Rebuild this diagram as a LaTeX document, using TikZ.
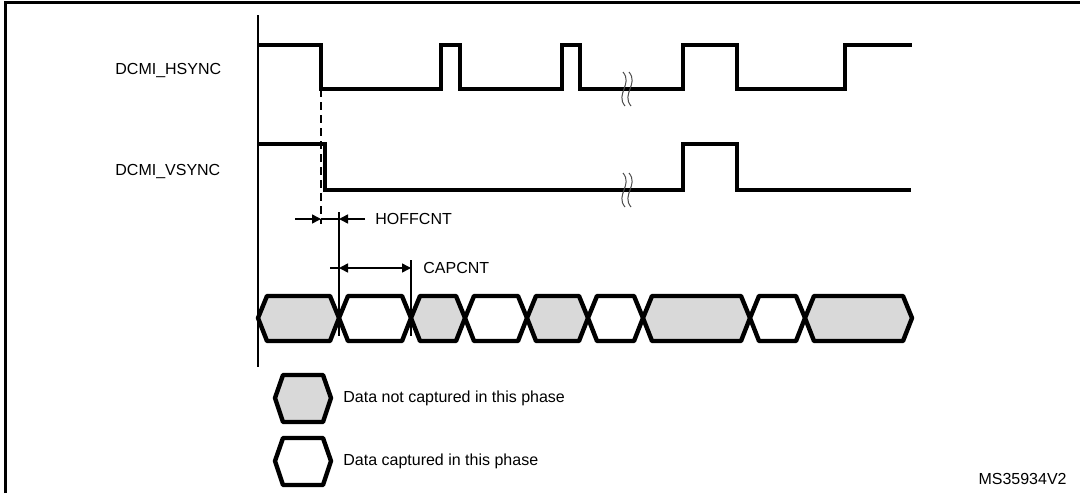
\documentclass[tikz,border=0pt]{standalone}
\usepackage{fontspec}
\setmainfont{Liberation Sans}
\usetikzlibrary{arrows.meta}
\definecolor{cellgray}{RGB}{217,217,217}
\begin{document}
\begin{tikzpicture}[x=0.5pt,y=-0.5pt, every node/.style={font=\fontsize{8}{9.6}\selectfont,inner sep=0pt},
  sig/.style={line width=2pt}, thinline/.style={line width=0.75pt},
  tip/.style={-{Triangle[length=4.5pt,width=4.5pt]}},
  cell/.style={line width=2.2pt,line join=round},
  brk/.style={line width=0.5pt,black!70}]
\useasboundingbox (0,0) rectangle (1080,493);
\draw[line width=1.5pt] (5,493) -- (5,2) -- (1080,2);
\node[anchor=west] (hsync) at (115,71) {DCMI\_HSYNC};
\node[anchor=west] (vsync) at (115,171) {DCMI\_VSYNC};
\draw[thinline] (258,15) -- (258,367);
\draw[sig] (258,45) -- (321,45) -- (321,89) -- (441,89) -- (441,45) -- (460,45) -- (460,89) -- (562,89) -- (562,45) -- (580,45) -- (580,89) -- (683,89) -- (683,45) -- (737,45) -- (737,89) -- (845,89) -- (845,45) -- (912,45);
\draw[sig] (258,144) -- (325,144) -- (325,190) -- (683,190) -- (683,144) -- (737,144) -- (737,190) -- (911,190);
\draw[brk] (623,72) .. controls (633,84) and (615,94) .. (625,106);
\draw[brk] (629,72) .. controls (639,84) and (621,94) .. (631,106);
\draw[brk] (623,173) .. controls (633,185) and (615,195) .. (625,207);
\draw[brk] (629,173) .. controls (639,185) and (621,195) .. (631,207);
\draw[line width=1pt,dash pattern=on 4pt off 2.5pt] (321,89) -- (321,224);
\coordinate (h0) at (295,219);
\coordinate (h1) at (321,219);
\coordinate (h2) at (339,219);
\coordinate (h3) at (365,219);
\draw[thinline,tip] (h0) -- (h1);
\draw[thinline] (h1) -- (h2);
\draw[thinline,tip] (h3) -- (h2);
\node[anchor=west] (hoff) at (375,219) {HOFFCNT};
\draw[thinline] (339,212) -- (339,336);
\draw[thinline] (411,260) -- (411,336);
\coordinate (c0) at (330,268);
\coordinate (c1) at (339,268);
\coordinate (c2) at (411,268);
\draw[thinline] (c0) -- (c1);
\draw[thinline,tip] (376,268) -- (c1);
\draw[thinline,tip] (376,268) -- (c2);
\node[anchor=west] (capcnt) at (423,268) {CAPCNT};
\filldraw[cell,fill=cellgray] (258,318) -- (267,296) -- (330,296) -- (339,318) -- (330,341) -- (267,341) -- cycle;
\filldraw[cell,fill=white] (339,318) -- (348,296) -- (402,296) -- (411,318) -- (402,341) -- (348,341) -- cycle;
\filldraw[cell,fill=cellgray] (411,318) -- (420,296) -- (456,296) -- (465,318) -- (456,341) -- (420,341) -- cycle;
\filldraw[cell,fill=white] (465,318) -- (474,296) -- (518,296) -- (527,318) -- (518,341) -- (474,341) -- cycle;
\filldraw[cell,fill=cellgray] (527,318) -- (536,296) -- (579,296) -- (588,318) -- (579,341) -- (536,341) -- cycle;
\filldraw[cell,fill=white] (588,318) -- (597,296) -- (634,296) -- (643,318) -- (634,341) -- (597,341) -- cycle;
\filldraw[cell,fill=cellgray] (643,318) -- (652,296) -- (741,296) -- (750,318) -- (741,341) -- (652,341) -- cycle;
\filldraw[cell,fill=white] (750,318) -- (759,296) -- (796,296) -- (805,318) -- (796,341) -- (759,341) -- cycle;
\filldraw[cell,fill=cellgray] (805,318) -- (814,296) -- (903,296) -- (912,318) -- (903,341) -- (814,341) -- cycle;
\filldraw[cell,fill=cellgray] (275,398) -- (283,375) -- (323,375) -- (331,398) -- (323,422) -- (283,422) -- cycle;
\node[anchor=west] (notcap) at (343,398) {Data not captured in this phase};
\filldraw[cell,fill=white] (275,461) -- (283,438) -- (323,438) -- (331,461) -- (323,485) -- (283,485) -- cycle;
\node[anchor=west] (cap) at (343,461) {Data captured in this phase};
\node[anchor=east] (ref) at (1067,479) {MS35934V2};
\end{tikzpicture}
\end{document}
